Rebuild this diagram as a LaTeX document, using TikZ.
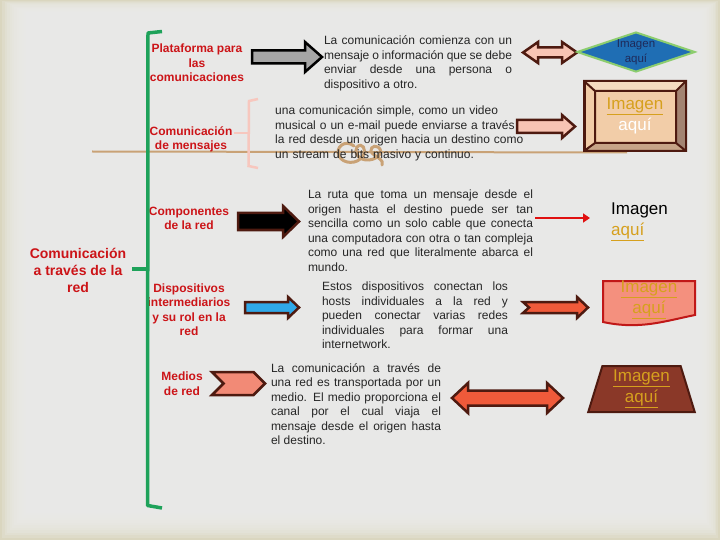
\documentclass[tikz,border=0pt]{standalone}
\usepackage{fontspec}
\setmainfont{Liberation Sans}
\usetikzlibrary{
  shapes,
  shapes.geometric,
  arrows.meta,
  calc,
  positioning
}

\definecolor{bgbeige}{HTML}{DAD6BF}
\definecolor{bggray}{HTML}{ECECEB}
\definecolor{lblred}{HTML}{CC1418}
\definecolor{txtgray}{HTML}{262626}
\definecolor{brackgreen}{HTML}{1EA25A}
\definecolor{bracepink}{HTML}{F7C7BE}
\definecolor{ruletan}{HTML}{C9A276}
\definecolor{darkbrown}{HTML}{4E1A10}
\definecolor{gold}{HTML}{D6A01E}
\definecolor{pinkfill}{HTML}{F8C4B4}
\definecolor{salmon}{HTML}{F28A76}
\definecolor{orangered}{HTML}{F05A3A}
\definecolor{skyblue}{HTML}{30A8E8}
\definecolor{diamblue}{HTML}{1F6EB4}
\definecolor{diamgreen}{HTML}{8CCD6E}
\definecolor{navy}{HTML}{1E2A5A}
\definecolor{peach}{HTML}{F2CDA8}
\definecolor{bevtop}{HTML}{F6DBC0}
\definecolor{bevright}{HTML}{A38472}
\definecolor{bevbottom}{HTML}{C7A487}
\definecolor{trapbrown}{HTML}{8A3828}
\definecolor{wavefill}{HTML}{F4907E}
\definecolor{wavered}{HTML}{C01818}
\definecolor{arrowred}{HTML}{E01010}

% style, tail x, tip x, mid y, half body, half head, head length
\newcommand{\rarrow}[7]{\draw[#1] (#2,#4-#5) -- (#3-#7,#4-#5) -- (#3-#7,#4-#6) -- (#3,#4)
  -- (#3-#7,#4+#6) -- (#3-#7,#4+#5) -- (#2,#4+#5) -- cycle;}
\newcommand{\lrarrow}[7]{\draw[#1] (#2,#4) -- (#2+#7,#4-#6) -- (#2+#7,#4-#5) -- (#3-#7,#4-#5)
  -- (#3-#7,#4-#6) -- (#3,#4) -- (#3-#7,#4+#6) -- (#3-#7,#4+#5) -- (#2+#7,#4+#5) -- (#2+#7,#4+#6) -- cycle;}

\tikzset{
  lbl/.style={text=lblred, font=\bfseries\fontsize{12}{14.5}\selectfont, align=center, inner sep=0},
  desc/.style={text=txtgray, font=\fontsize{12}{14.5}\selectfont, align=justify, inner sep=0},
  imgtxt/.style={font=\fontsize{17}{21}\selectfont, align=center, inner sep=0},
  brack/.style={brackgreen, line width=3.5pt, line join=round},
  brace/.style={bracepink, line width=2.5pt},
  blockarrow/.style={draw=darkbrown, line width=2.5pt, line join=miter}
}

\begin{document}
\begin{tikzpicture}[x=1pt, y=-1pt]
    \useasboundingbox (0,0) rectangle (720,540);
    \fill[bgbeige] (0,0) rectangle (720,540);
    \foreach \i in {1,...,14}
      \fill[bggray, opacity=0.24] (2.4*\i,1.1*\i) rectangle (720-1.8*\i,540-2.5*\i);

    \draw[ruletan, line width=2pt] (92,151.5) -- (627,152.5);
    \draw[ruletan, line width=3pt, line cap=round]
      (354,146) .. controls (345,139) and (335,147) .. (339,156)
      .. controls (343,164) and (357,165) .. (363,156)
      .. controls (367,149) and (362,142) .. (357,147)
      .. controls (353,152) and (359,161) .. (369,160)
      .. controls (379,159) and (384,151) .. (378,147)
      .. controls (373,144) and (368,150) .. (373,154)
      .. controls (378,158) and (384,160) .. (382,165);

    \node[lbl, font=\bfseries\fontsize{14}{17}\selectfont] (main) at (78,270) {Comunicación\\a través de la\\red};
    \node[lbl] (plat) at (197,63) {Plataforma para\\las\\comunicaciones};
    \node[lbl] (msg) at (191,139.5) {Comunicación\\de mensajes};
    \node[lbl] (comp) at (189,218.5) {Componentes\\de la red};
    \node[lbl] (disp) at (189,309.5) {Dispositivos\\intermediarios\\y su rol en la\\red};
    \node[lbl] (medios) at (182,383.5) {Medios\\de red};

    \draw[brack] (162,31.5) -- (148,33) -- (147.5,505.5) -- (162,508);
    \coordinate (brk) at (147.5,269);
    \draw[brack] (main.east) ++(6,-1) -- (brk);
    \draw[brace] (258,99) -- (249,101) -- (248.5,166) -- (258,168);
    \draw[brace] (msg.east) ++(1,-6.5) -- (248.5,133);

    \node[desc, text width=188pt] (t1) at (418,63.5) {La comunicación comienza con un\linebreak
      mensaje o información que se debe\linebreak enviar desde una persona o\linebreak dispositivo a otro.};
    \node[desc, align=left, text width=265pt, anchor=west] (t2) at (275,133.5) {una comunicación simple, como un video\\
      musical o un e-mail puede enviarse a través de\\ la red desde un origen hacia un destino como\\
      un stream de bits masivo y continuo.};
    \node[desc, text width=225pt] (t3) at (420.5,230.5) {La ruta que toma un mensaje desde el\linebreak
      origen hasta el destino puede ser tan\linebreak sencilla como un solo cable que conecta\linebreak
      una computadora con otra o tan compleja\linebreak como una red que literalmente abarca el\linebreak mundo.};
    \node[desc, text width=186pt] (t4) at (415,315.5) {Estos dispositivos conectan los\linebreak
      hosts individuales a la red y\linebreak pueden conectar varias redes\linebreak
      individuales para formar una\linebreak internetwork.};
    \node[desc, text width=170pt] (t5) at (356,404) {La comunicación a través de\linebreak
      una red es transportada por un\linebreak medio. El medio proporciona el\linebreak
      canal por el cual viaja el\linebreak mensaje desde el origen hasta\linebreak el destino.};

    \rarrow{blockarrow, draw=black, fill=black!35}{252}{322}{57}{6.5}{15}{17}
    \rarrow{blockarrow, fill=black}{238}{299}{221.5}{8.5}{15.5}{16}
    \rarrow{blockarrow, fill=skyblue}{245}{299}{307.5}{5.5}{10.5}{11}
    \node[signal, signal from=west, signal to=east, signal pointer angle=90, inner sep=0,
      minimum width=53pt, minimum height=23pt, fill=salmon, draw=darkbrown, line width=2.5pt] (a5) at (238.5,383.5) {};

    \lrarrow{blockarrow, fill=pinkfill}{523}{577}{52.5}{5}{10.5}{15}
    \rarrow{blockarrow, fill=pinkfill}{517}{575}{126.5}{6.5}{11.5}{13}
    \draw[blockarrow, fill=orangered]
      (523,302) -- (577,302) -- (577,297) -- (588,307.5) -- (577,318) -- (577,313)
      -- (523,313) -- (529,307.5) -- cycle;
    \lrarrow{blockarrow, fill=orangered}{452}{563}{398}{7.5}{15}{16}

    \node[diamond, aspect=2.95, minimum width=118pt, minimum height=40pt, inner sep=0,
      fill=diamblue, draw=diamgreen, line width=2pt, text=navy, align=center,
      font=\fontsize{11.5}{14.5}\selectfont] (img1) at (636,52) {Imagen\\aquí};

    \node[draw=darkbrown, line width=2pt, fill=peach, minimum width=100pt, minimum height=68pt, inner sep=0] (bev) at (635,116) {};
    \fill[bevtop] (bev.north west) -- (bev.north east)
      -- ([shift={(-10,10)}]bev.north east) -- ([shift={(11,10)}]bev.north west) -- cycle;
    \fill[bevright] (bev.north east) -- (bev.south east)
      -- ([shift={(-10,-8)}]bev.south east) -- ([shift={(-10,10)}]bev.north east) -- cycle;
    \fill[bevbottom] (bev.south west) -- (bev.south east)
      -- ([shift={(-10,-8)}]bev.south east) -- ([shift={(11,-8)}]bev.south west) -- cycle;
    \draw[darkbrown, line width=2pt] (bev.north west) rectangle (bev.south east)
      ([shift={(11,10)}]bev.north west) rectangle ([shift={(-10,-8)}]bev.south east)
      (bev.north west) -- ([shift={(11,10)}]bev.north west)
      (bev.north east) -- ([shift={(-10,10)}]bev.north east)
      (bev.south east) -- ([shift={(-10,-8)}]bev.south east)
      (bev.south west) -- ([shift={(11,-8)}]bev.south west);
    \node[imgtxt] (img2) at (bev.center) {\textcolor{gold}{\underline{Imagen}}\\\textcolor{white}{aquí}};

    \node[imgtxt, align=left, anchor=west] (img3) at (611,221.5) {Imagen\\\textcolor{gold}{\underline{aquí}}};
    \draw[arrowred, line width=2.2pt, -{Triangle[length=7pt,width=9pt]}]
      ($(t3.east |- img3.west)+(2,-3.5)$) -- ($(img3.west)+(-21,-3.5)$);

    \draw[wavered, line width=2pt, fill=wavefill] (603,281) -- (695,281) -- (695,315)
      .. controls (665,321) and (640,330) .. (603,322) -- cycle;
    \node[imgtxt, text=gold] (img4) at (649,300) {\underline{Imagen}\\\underline{aquí}};

    \node[trapezium, trapezium stretches=true, trapezium left angle=75, trapezium right angle=75,
      minimum width=107pt, minimum height=46pt, inner sep=0, fill=trapbrown, draw=darkbrown,
      line width=2pt, imgtxt, text=gold] (img5) at (641.5,389) {\underline{Imagen}\\\underline{aquí}};
\end{tikzpicture}
\end{document}
